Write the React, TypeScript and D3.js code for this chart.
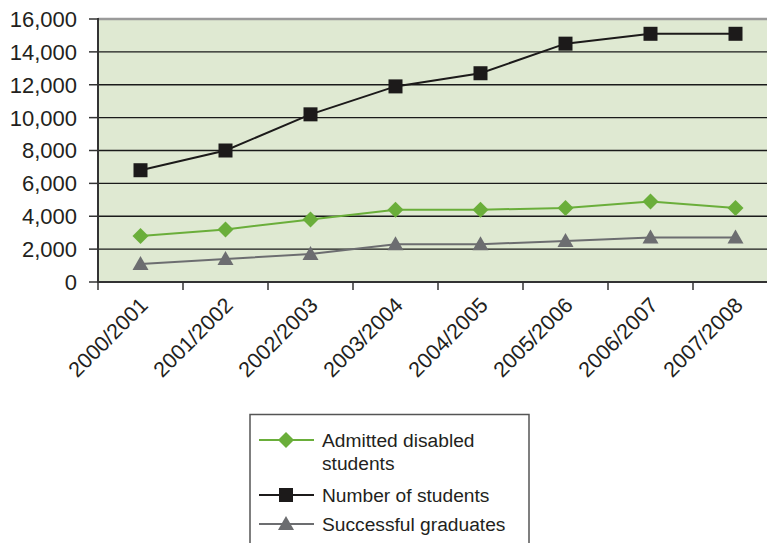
import React from "react";
import * as d3 from "d3";

const years = [
  "2000/2001", "2001/2002", "2002/2003", "2003/2004",
  "2004/2005", "2005/2006", "2006/2007", "2007/2008",
];
const admittedDisabled = [2800, 3200, 3800, 4400, 4400, 4500, 4900, 4500];
const numberOfStudents = [6800, 8000, 10200, 11900, 12700, 14500, 15100, 15100];
const successfulGraduates = [1100, 1400, 1700, 2300, 2300, 2500, 2700, 2700];
const yTicks = [0, 2000, 4000, 6000, 8000, 10000, 12000, 14000, 16000];

const W = 767;
const H = 543;
const left = 98;
const top = 19;
const bottom = 282;
const band = 85;
const FONT = "'Liberation Sans', Arial, Helvetica, sans-serif";

const GREEN = "#6aae3a";
const BLACK = "#1c1a1a";
const GRAY = "#6c6d70";

type Kind = "diamond" | "square" | "triangle";

function Marker({ kind, x, y, color }: { kind: Kind; x: number; y: number; color: string }) {
  if (kind === "square") {
    return <rect x={x - 7} y={y - 7} width={14} height={14} fill={color} />;
  }
  if (kind === "diamond") {
    const r = 8;
    return <path d={`M${x},${y - r}L${x + r},${y}L${x},${y + r}L${x - r},${y}Z`} fill={color} />;
  }
  const r = 8;
  return (
    <path
      d={`M${x},${y - r}L${x + r},${y + r * 0.75}L${x - r},${y + r * 0.75}Z`}
      fill={color}
    />
  );
}

export default function App() {
  const x = d3
    .scaleBand<string>()
    .domain(years)
    .range([left, left + band * years.length]);
  const y = d3.scaleLinear().domain([0, 16000]).range([bottom, top]);
  const fmt = d3.format(",");
  const cx = (d: string) => (x(d) as number) + x.bandwidth() / 2;

  const series: { name: string[]; values: number[]; color: string; kind: Kind; width: number }[] = [
    { name: ["Admitted disabled", "students"], values: admittedDisabled, color: GREEN, kind: "diamond", width: 2 },
    { name: ["Number of students"], values: numberOfStudents, color: BLACK, kind: "square", width: 2 },
    { name: ["Successful graduates"], values: successfulGraduates, color: GRAY, kind: "triangle", width: 2 },
  ];

  const line = d3
    .line<number>()
    .x((_, i) => cx(years[i]))
    .y((v) => y(v));

  const legendX = 250;
  const legendRows = [440, 495, 524];

  return (
    <svg
      width={W}
      height={H}
      style={{ position: "absolute", left: 0, top: 0, background: "#fff" }}
      fontFamily={FONT}
    >
      <rect x={left} y={top} width={W - left} height={bottom - top} fill="#dfe9d2" />
      {/* gridlines */}
      {yTicks.filter((t) => t > 0 && t < 16000).map((t) => (
        <line key={t} x1={left} x2={W} y1={y(t)} y2={y(t)} stroke="#1a1a1a" strokeWidth={1.4} />
      ))}
      <line x1={left} x2={W} y1={y(16000)} y2={y(16000)} stroke="#9a9a9a" strokeWidth={2.5} />
      {/* y axis */}
      <line x1={left} x2={left} y1={top - 1} y2={bottom + 1} stroke="#333" strokeWidth={2} />
      {yTicks.map((t) => (
        <g key={t}>
          <line x1={left - 9} x2={left} y1={y(t)} y2={y(t)} stroke="#333" strokeWidth={1.5} />
          <text
            x={left - 21}
            y={y(t)}
            dy="0.36em"
            textAnchor="end"
            fontSize={22}
            fill="#231f20"
          >
            {fmt(t)}
          </text>
        </g>
      ))}
      {/* x axis */}
      <line x1={left} x2={W} y1={bottom} y2={bottom} stroke="#333" strokeWidth={2} />
      {years.map((d) => (
        <line key={d} x1={x(d) as number} x2={x(d) as number} y1={bottom} y2={bottom + 8} stroke="#333" strokeWidth={1.5} />
      ))}
      <line x1={left + band * 8} x2={left + band * 8} y1={bottom} y2={bottom + 8} stroke="#333" strokeWidth={1.5} />
      {years.map((d) => (
        <text
          key={d}
          transform={`translate(${cx(d) - 2},${bottom + 14}) rotate(-45)`}
          textAnchor="end"
          dy="0.7em"
          fontSize={21.5}
          fill="#231f20"
        >
          {d}
        </text>
      ))}
      {/* series */}
      {series.map((s) => (
        <g key={s.name.join(" ")}>
          <path d={line(s.values) as string} fill="none" stroke={s.color} strokeWidth={s.width} />
          {s.values.map((v, i) => (
            <Marker key={i} kind={s.kind} x={cx(years[i])} y={y(v)} color={s.color} />
          ))}
        </g>
      ))}
      {/* legend */}
      <rect x={legendX} y={414.5} width={279} height={140} fill="#fff" stroke="#555" strokeWidth={1.5} />
      {series.map((s, i) => (
        <g key={s.name.join(" ")}>
          <line x1={259} x2={314} y1={legendRows[i]} y2={legendRows[i]} stroke={s.color} strokeWidth={2} />
          <Marker kind={s.kind} x={286} y={legendRows[i]} color={s.color} />
          {s.name.map((n, j) => (
            <text key={n} x={322} y={legendRows[i] + j * 23} dy="0.36em" fontSize={19.2} fill="#231f20">
              {n}
            </text>
          ))}
        </g>
      ))}
    </svg>
  );
}
